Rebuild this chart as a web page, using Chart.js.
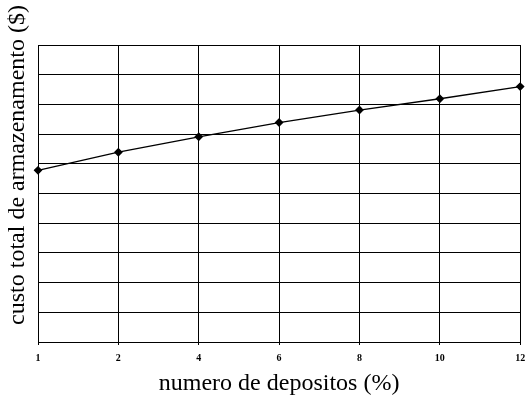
<!DOCTYPE html>
<html>
<head>
<meta charset="utf-8">
<script src="https://cdn.jsdelivr.net/npm/chart.js@4"></script>
<style>
  html, body { margin: 0; padding: 0; background: #fff; }
  #wrap { width: 525px; height: 401px; }
</style>
</head>
<body>
<div id="wrap"><canvas id="myChart" width="525" height="401"></canvas></div>
<script>
const depositos = ['1', '2', '4', '6', '8', '10', '12'];
const custoTotal = [57.8, 63.9, 69.1, 73.9, 78.1, 81.9, 86.0];
const xTitle = 'numero de depositos (%)';
const yTitle = 'custo total de armazenamento ($)';

const serif = '"Liberation Serif", "Times New Roman", serif';

// y title is not centred on the plot in the original, so draw it by hand
const yTitlePlugin = {
  id: 'yTitle',
  afterDraw(chart) {
    const c = chart.ctx;
    c.save();
    c.translate(18, 165);
    c.rotate(-Math.PI / 2);
    c.font = '24px ' + serif;
    c.fillStyle = '#000';
    c.textAlign = 'center';
    c.textBaseline = 'middle';
    c.fillText(yTitle, 0, 0);
    c.restore();
  }
};

const ctx = document.getElementById('myChart').getContext('2d');
const chart = new Chart(ctx, {
  type: 'line',
  data: {
    labels: depositos,
    datasets: [{
      data: custoTotal,
      borderColor: '#000',
      backgroundColor: '#000',
      borderWidth: 1.3,
      pointStyle: 'rectRot',
      pointRadius: 3.5,
      pointHoverRadius: 3.5,
      tension: 0
    }]
  },
  options: {
    responsive: false,
    animation: false,
    events: [],
    layout: { padding: { left: 38, right: 3, top: 45, bottom: 0 } },
    plugins: { legend: { display: false }, tooltip: { enabled: false } },
    scales: {
      x: {
        offset: false,
        grid: { color: '#000', lineWidth: 1, tickLength: 3, tickColor: '#000' },
        border: { color: '#000', width: 1 },
        ticks: {
          color: '#000',
          padding: 7,
          maxRotation: 0,
          font: { family: serif, size: 10, weight: 'bold' }
        },
        title: {
          display: true,
          text: xTitle,
          color: '#000',
          font: { family: serif, size: 24 },
          padding: { top: 4, bottom: 3 }
        },
        afterFit(scale) {
          scale.height = 59;
          scale.paddingLeft = 0;
          scale.paddingRight = 0;
        }
      },
      y: {
        min: 0,
        max: 100,
        grid: { color: '#000', lineWidth: 1, drawTicks: false },
        border: { color: '#000', width: 1 },
        ticks: { display: false, stepSize: 10 }
      }
    }
  },
  plugins: [yTitlePlugin]
});
</script>
</body>
</html>
